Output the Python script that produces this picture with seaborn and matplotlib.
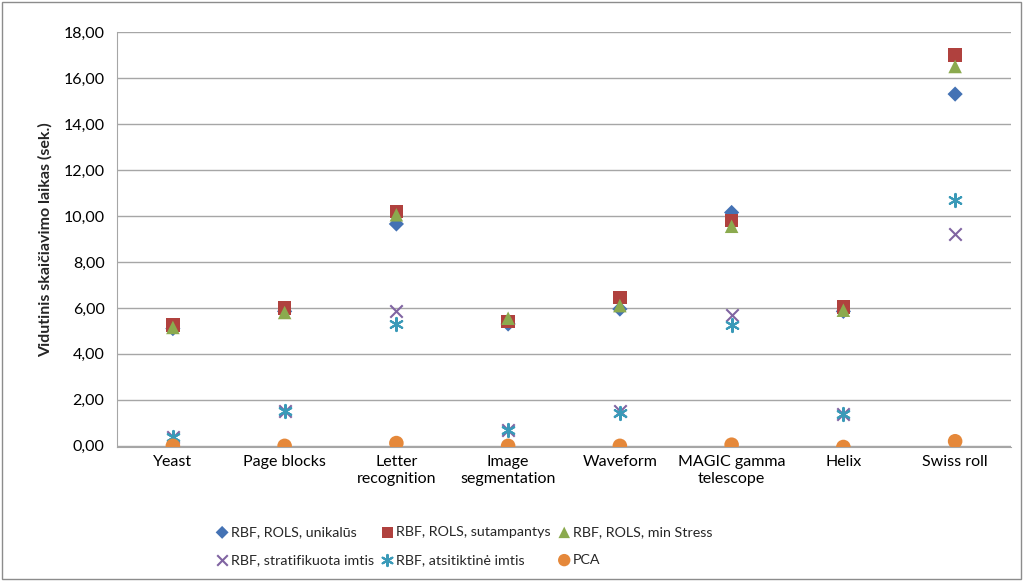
import numpy as np
import pandas as pd
import seaborn as sns
import matplotlib.pyplot as plt
from matplotlib.ticker import FuncFormatter

categories = ["Yeast", "Page blocks", "Letter\nrecognition", "Image\nsegmentation",
              "Waveform", "MAGIC gamma\ntelescope", "Helix", "Swiss roll"]

rols_unique = [5.10, 5.85, 9.65, 5.30, 5.95, 10.15, 5.85, 15.30]
rols_overlap = [5.25, 6.00, 10.20, 5.40, 6.45, 9.80, 6.05, 17.00]
rols_min_stress = [5.15, 5.80, 10.05, 5.55, 6.10, 9.55, 5.90, 16.50]
stratified = [0.40, 1.50, 5.85, 0.70, 1.50, 5.70, 1.40, 9.20]
random_sample = [0.40, 1.50, 5.30, 0.70, 1.45, 5.25, 1.40, 10.70]
pca = [0.00, 0.00, 0.12, 0.00, 0.00, 0.05, -0.05, 0.20]

series = [
    ("RBF, ROLS, unikalūs", rols_unique, "D", "#4472B4", 60),
    ("RBF, ROLS, sutampantys", rols_overlap, "s", "#B0413E", 95),
    ("RBF, ROLS, min Stress", rols_min_stress, "^", "#8BAA4E", 95),
    ("RBF, stratifikuota imtis", stratified, "x", "#8064A2", 80),
    ("RBF, atsitiktinė imtis", random_sample, (6, 2, 0), "#3A9AB8", 90),
    ("PCA", pca, "o", "#E5883A", 110),
]

sns.set_style("white")
plt.rcParams["font.family"] = ["Lato", "DejaVu Sans"]

fig = plt.figure(figsize=(10.23, 5.81), dpi=100)
ax = fig.add_axes([117 / 1023, 1 - 447 / 581, (1011 - 117) / 1023, (447 - 32) / 581])

for name, vals, marker, color, size in series:
    df = pd.DataFrame({"cat": categories, "val": vals})
    if marker in ("x", (6, 2, 0)):
        sns.scatterplot(data=df, x="cat", y="val", ax=ax, marker=marker, color=color,
                        s=size, linewidth=1.5, label=name, zorder=3)
    else:
        sns.scatterplot(data=df, x="cat", y="val", ax=ax, marker=marker, color=color,
                        s=size, edgecolor="none", label=name, zorder=3)

ax.set_xlim(-0.5, len(categories) - 0.5)
ax.set_ylim(-0.05, 18)
ax.set_yticks(np.arange(0, 19, 2))
ax.yaxis.set_major_formatter(FuncFormatter(lambda v, p: f"{v:.2f}".replace(".", ",")))
ax.set_xlabel("")
ax.set_ylabel("Vidutinis skaičiavimo laikas (sek.)", fontsize=11.5, fontweight="bold", labelpad=8)
ax.grid(axis="y", color="#a6a6a6", linewidth=1)
ax.set_axisbelow(True)
for side in ("top", "right"):
    ax.spines[side].set_visible(False)
for side in ("left", "bottom"):
    ax.spines[side].set_color("#a6a6a6")
ax.tick_params(axis="both", labelsize=11.5, colors="black", length=0, pad=6)
ax.tick_params(axis="y", length=5, color="#a6a6a6", pad=4)

handles, labels = ax.get_legend_handles_labels()
order = [0, 3, 1, 4, 2, 5]
ax.legend([handles[i] for i in order], [labels[i] for i in order], ncol=3,
          loc="center", bbox_to_anchor=(464 / 1023, 1 - 546 / 581), bbox_transform=fig.transFigure,
          frameon=False, fontsize=10.3, handlelength=0.9, handletextpad=0.15, columnspacing=0.5,
          labelspacing=1.1, markerscale=0.85)

fig.add_artist(plt.Rectangle((2 / 1023, 2 / 581), 1 - 4 / 1023, 1 - 4 / 581,
                             transform=fig.transFigure, fill=False, edgecolor="#8c8c8c", linewidth=1))

plt.savefig("out.png", dpi=100)
